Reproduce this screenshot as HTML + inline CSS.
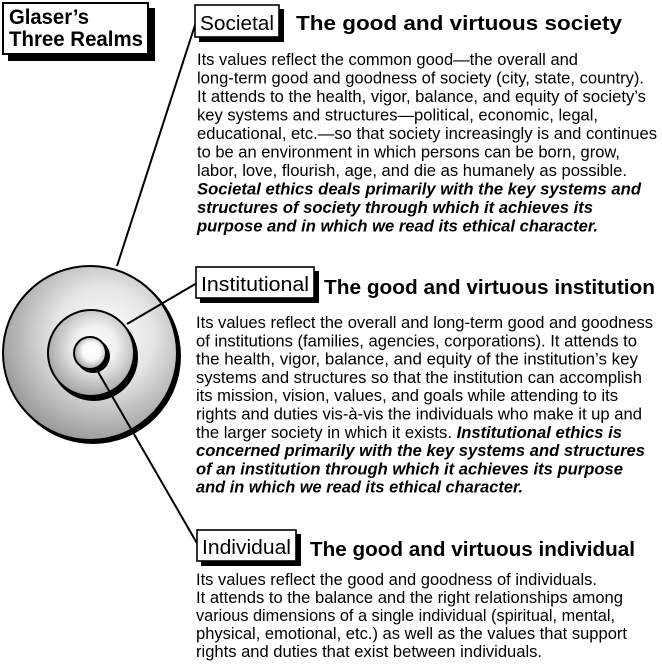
<!DOCTYPE html>
<html><head><meta charset="utf-8"><style>
html,body{margin:0;padding:0;background:#fff;}
svg{display:block;font-family:"Liberation Sans",Arial,sans-serif;}
</style></head><body>
<svg width="662" height="665" viewBox="0 0 662 665" xmlns="http://www.w3.org/2000/svg">
<defs>
<radialGradient id="g1" cx="0.58" cy="0.4" r="0.62">
<stop offset="0" stop-color="#ffffff"/><stop offset="0.45" stop-color="#e6e6e6"/><stop offset="1" stop-color="#9a9a9a"/>
</radialGradient>
<radialGradient id="g2" cx="0.55" cy="0.42" r="0.6">
<stop offset="0" stop-color="#ffffff"/><stop offset="0.4" stop-color="#f0f0f0"/><stop offset="1" stop-color="#a0a0a0"/>
</radialGradient>
<radialGradient id="g3" cx="0.55" cy="0.45" r="0.6">
<stop offset="0" stop-color="#ffffff"/><stop offset="0.45" stop-color="#fafafa"/><stop offset="1" stop-color="#999"/>
</radialGradient>
</defs>

<!-- Glaser box -->
<rect x="8" y="8" width="147" height="53" fill="#000"/>
<rect x="3" y="3" width="145" height="51" fill="#fff" stroke="#000" stroke-width="2"/>
<text x="9" y="24" font-size="21" font-weight="bold" textLength="80" lengthAdjust="spacingAndGlyphs">Glaser’s</text>
<text x="9" y="46" font-size="21" font-weight="bold" textLength="134" lengthAdjust="spacingAndGlyphs">Three Realms</text>

<!-- circles -->
<circle cx="93" cy="356" r="88" fill="#000"/>
<circle cx="90" cy="353" r="87" fill="url(#g1)" stroke="#000" stroke-width="2"/>
<circle cx="94" cy="357" r="44" fill="#000"/>
<circle cx="91" cy="353" r="43" fill="url(#g2)" stroke="#000" stroke-width="2"/>
<circle cx="93" cy="356" r="17" fill="#000"/>
<circle cx="90" cy="353" r="16" fill="url(#g3)" stroke="#000" stroke-width="2"/>

<!-- connectors (drawn over circles) -->
<line x1="117" y1="266" x2="196" y2="22" stroke="#000" stroke-width="2"/>
<line x1="127" y1="324" x2="197" y2="283" stroke="#000" stroke-width="2"/>
<line x1="97" y1="370" x2="198" y2="545" stroke="#000" stroke-width="2"/>

<!-- Societal -->
<rect x="199" y="9" width="85" height="33" fill="#000"/>
<rect x="195" y="5" width="84" height="32" fill="#fff" stroke="#000" stroke-width="1.6"/>
<text x="200" y="30" font-size="20" textLength="74" lengthAdjust="spacingAndGlyphs">Societal</text>
<text x="296" y="30" font-size="20" font-weight="bold" textLength="326" lengthAdjust="spacingAndGlyphs">The good and virtuous society</text>
<g font-size="16.5">
<text x="197" y="65" textLength="381" lengthAdjust="spacingAndGlyphs">Its values reflect the common good—the overall and</text>
<text x="197" y="83.5" textLength="447" lengthAdjust="spacingAndGlyphs">long-term good and goodness of society (city, state, country).</text>
<text x="197" y="102" textLength="449" lengthAdjust="spacingAndGlyphs">It attends to the health, vigor, balance, and equity of society’s</text>
<text x="197" y="120.5" textLength="401" lengthAdjust="spacingAndGlyphs">key systems and structures—political, economic, legal,</text>
<text x="197" y="139" textLength="460" lengthAdjust="spacingAndGlyphs">educational, etc.—so that society increasingly is and continues</text>
<text x="197" y="157.5" textLength="423" lengthAdjust="spacingAndGlyphs">to be an environment in which persons can be born, grow,</text>
<text x="197" y="176" textLength="430" lengthAdjust="spacingAndGlyphs">labor, love, flourish, age, and die as humanely as possible.</text>
<g font-weight="bold" font-style="italic">
<text x="197" y="194.5" textLength="444" lengthAdjust="spacingAndGlyphs">Societal ethics deals primarily with the key systems and</text>
<text x="197" y="213" textLength="396" lengthAdjust="spacingAndGlyphs">structures of society through which it achieves its</text>
<text x="197" y="231.5" textLength="401" lengthAdjust="spacingAndGlyphs">purpose and in which we read its ethical character.</text>
</g>
</g>

<!-- Institutional -->
<rect x="200" y="271" width="119" height="32" fill="#000"/>
<rect x="196" y="267" width="118" height="31" fill="#fff" stroke="#000" stroke-width="1.6"/>
<text x="201" y="291" font-size="20" textLength="108" lengthAdjust="spacingAndGlyphs">Institutional</text>
<text x="324" y="294" font-size="20" font-weight="bold" textLength="331" lengthAdjust="spacingAndGlyphs">The good and virtuous institution</text>
<g font-size="16.5">
<text x="196" y="328" textLength="457" lengthAdjust="spacingAndGlyphs">Its values reflect the overall and long-term good and goodness</text>
<text x="196" y="346.3" textLength="441" lengthAdjust="spacingAndGlyphs">of institutions (families, agencies, corporations). It attends to</text>
<text x="196" y="364.6" textLength="442" lengthAdjust="spacingAndGlyphs">the health, vigor, balance, and equity of the institution’s key</text>
<text x="196" y="382.9" textLength="446" lengthAdjust="spacingAndGlyphs">systems and structures so that the institution can accomplish</text>
<text x="196" y="401.2" textLength="422" lengthAdjust="spacingAndGlyphs">its mission, vision, values, and goals while attending to its</text>
<text x="196" y="419.5" textLength="446" lengthAdjust="spacingAndGlyphs">rights and duties vis-à-vis the individuals who make it up and</text>
<text x="196" y="437.8" textLength="426" lengthAdjust="spacingAndGlyphs">the larger society in which it exists. <tspan font-weight="bold" font-style="italic">Institutional ethics is</tspan></text>
<g font-weight="bold" font-style="italic">
<text x="196" y="456.1" textLength="449" lengthAdjust="spacingAndGlyphs">concerned primarily with the key systems and structures</text>
<text x="196" y="474.4" textLength="427" lengthAdjust="spacingAndGlyphs">of an institution through which it achieves its purpose</text>
<text x="196" y="492.7" textLength="327" lengthAdjust="spacingAndGlyphs">and in which we read its ethical character.</text>
</g>
</g>

<!-- Individual -->
<rect x="201" y="534" width="100" height="32" fill="#000"/>
<rect x="197" y="530" width="99" height="31" fill="#fff" stroke="#000" stroke-width="1.6"/>
<text x="202" y="554" font-size="20" textLength="89" lengthAdjust="spacingAndGlyphs">Individual</text>
<text x="310" y="556" font-size="20" font-weight="bold" textLength="325" lengthAdjust="spacingAndGlyphs">The good and virtuous individual</text>
<g font-size="16.5">
<text x="196" y="585" textLength="401" lengthAdjust="spacingAndGlyphs">Its values reflect the good and goodness of individuals.</text>
<text x="196" y="603" textLength="427" lengthAdjust="spacingAndGlyphs">It attends to the balance and the right relationships among</text>
<text x="196" y="621" textLength="419" lengthAdjust="spacingAndGlyphs">various dimensions of a single individual (spiritual, mental,</text>
<text x="196" y="639" textLength="431" lengthAdjust="spacingAndGlyphs">physical, emotional, etc.) as well as the values that support</text>
<text x="196" y="657" textLength="346" lengthAdjust="spacingAndGlyphs">rights and duties that exist between individuals.</text>
</g>
</svg>
</body></html>
